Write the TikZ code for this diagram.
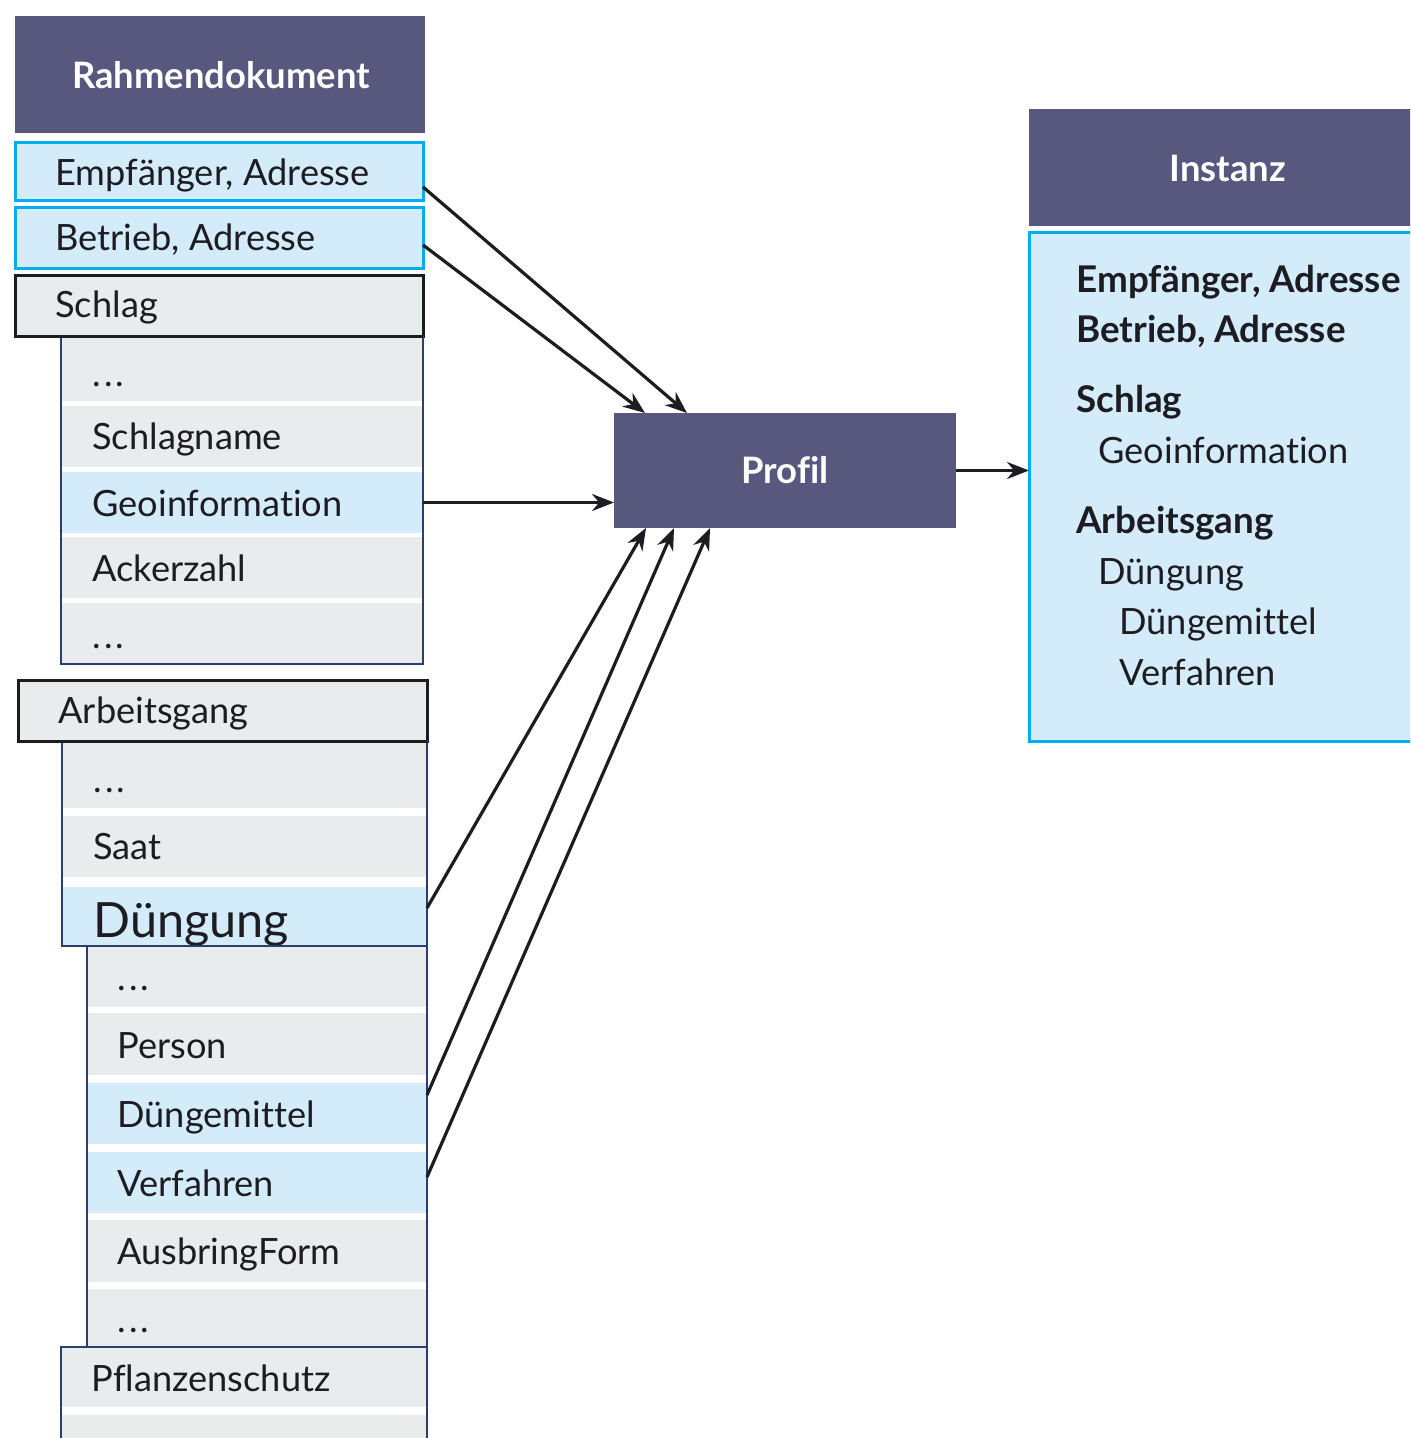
\documentclass[tikz,border=0pt]{standalone}
\usepackage{fontspec}
\setmainfont{Lato}[Ligatures=NoCommon]
\usetikzlibrary{fit,arrows.meta}

\definecolor{hdr}{RGB}{88,87,125}
\definecolor{selfill}{RGB}{212,236,249}
\definecolor{selline}{RGB}{0,174,239}
\definecolor{rowgrey}{RGB}{232,236,237}
\definecolor{navy}{RGB}{44,62,110}
\definecolor{ink}{RGB}{28,28,34}

\newcommand{\etc}{.\kern1.6pt.\kern1.6pt.}

\begin{document}
\begin{tikzpicture}[x=0.5pt,y=-0.5pt,
  box/.style={inner sep=0pt, outer sep=0pt},
  hdrbox/.style={box, fill=hdr},
  selbox/.style={box, fill=selfill, draw=selline, line width=1.5pt},
  grpbox/.style={box, fill=rowgrey, draw=ink, line width=1.5pt},
  greyrow/.style={box, fill=rowgrey},
  bluerow/.style={box, fill=selfill},
  listframe/.style={box, draw=navy, line width=1pt},
  lbl/.style={anchor=base west, inner sep=0pt, text=ink,
    font=\fontsize{18.1}{21}\selectfont},
  biglbl/.style={lbl, font=\fontsize{24.3}{28}\selectfont},
  boldlbl/.style={lbl, font=\fontsize{18.4}{21}\selectfont\bfseries},
  hdrlbl/.style={anchor=base, inner sep=0pt, text=white,
    font=\fontsize{18.2}{21}\selectfont\bfseries},
  arr/.style={draw=ink, line width=1.6pt,
    -{Stealth[length=11pt,width=8.5pt]}}
]
\clip (0,0) rectangle (1410,1438);

% ---------- Rahmendokument ----------
\node[hdrbox, fit={(15,16)(425,133)}] (rahmen) {};
\node[hdrlbl] (rahmenT) at (221,89) {Rahmendokument};

\node[selbox, fit={(15,143)(423,201)}] (emp) {};
\node[lbl] (empT) at (55,186) {Empfänger, Adresse};
\node[selbox, fit={(15,208)(423,269)}] (betr) {};
\node[lbl] (betrT) at (55,251) {Betrieb, Adresse};

% Schlag group
\node[grpbox, fit={(15,276)(423,337)}] (schlag) {};
\node[lbl] (schlagT) at (55,318) {Schlag};
\node[greyrow, fit={(61,338)(423,401)}] (s1) {};
\node[greyrow, fit={(61,406)(423,467)}] (s2) {};
\node[bluerow, fit={(61,472)(423,533)}] (geo) {};
\node[greyrow, fit={(61,537)(423,598)}] (s4) {};
\node[greyrow, fit={(61,603)(423,664)}] (s5) {};
\node[listframe, fit={(61,337)(423,664)}] (schlagList) {};
\draw[ink, line width=1.5pt] (schlag.south west) -- (schlag.south east);
\node[lbl] (s1T) at (92,387) {\etc};
\node[lbl] (s2T) at (92,450) {Schlagname};
\node[lbl] (geoT) at (92,516) {Geoinformation};
\node[lbl] (s4T) at (92,581) {Ackerzahl};
\node[lbl] (s5T) at (92,648) {\etc};

% Arbeitsgang group
\node[grpbox, fit={(18,680)(427,741)}] (arbeit) {};
\node[lbl] (arbeitT) at (58,723) {Arbeitsgang};
\node[greyrow, fit={(62,742)(427,808)}] (a1) {};
\node[greyrow, fit={(62,816)(427,877)}] (a2) {};
\node[bluerow, fit={(62,887)(427,946)}] (dueng) {};
\node[listframe, fit={(62,741)(427,946)}] (arbeitList) {};
\draw[ink, line width=1.5pt] (arbeit.south west) -- (arbeit.south east);
\node[lbl] (a1T) at (93,792) {\etc};
\node[lbl] (a2T) at (93,859) {Saat};
\node[biglbl] (duengT) at (93,937) {Düngung};

% Duengung sub-list
\node[greyrow, fit={(87,947)(427,1007)}] (d1) {};
\node[greyrow, fit={(87,1013)(427,1075)}] (d2) {};
\node[bluerow, fit={(87,1083)(427,1144)}] (mittel) {};
\node[bluerow, fit={(87,1152)(427,1213)}] (verf) {};
\node[greyrow, fit={(87,1220)(427,1282)}] (d5) {};
\node[greyrow, fit={(87,1289)(427,1347)}] (d6) {};
\node[listframe, fit={(87,946)(427,1347)}] (duengList) {};
\node[lbl] (d1T) at (117,990) {\etc};
\node[lbl] (d2T) at (117,1058) {Person};
\node[lbl] (mittelT) at (117,1127) {Düngemittel};
\node[lbl] (verfT) at (117,1196) {Verfahren};
\node[lbl] (d5T) at (117,1264) {AusbringForm};
\node[lbl] (d6T) at (117,1332) {\etc};

% Pflanzenschutz
\node[greyrow, fit={(61,1348)(427,1407)}] (pfl) {};
\node[greyrow, fit={(61,1415)(427,1470)}] (pfl2) {};
\node[listframe, fit={(61,1347)(427,1470)}] (pflList) {};
\node[lbl] (pflT) at (91,1391) {Pflanzenschutz};

% ---------- Profil ----------
\node[hdrbox, fit={(614,413)(956,528)}] (prof) {};
\node[hdrlbl] (profT) at (785,483) {Profil};

% ---------- Instanz ----------
\node[hdrbox, fit={(1029,109)(1430,226)}] (inst) {};
\node[hdrlbl] (instT) at (1228,182) {Instanz};
\node[selbox, fit={(1029,233)(1430,741)}] (instBody) {};
\node[boldlbl] (i1) at (1076,293) {Empfänger, Adresse};
\node[boldlbl] (i2) at (1076,343) {Betrieb, Adresse};
\node[boldlbl] (i3) at (1076,413) {Schlag};
\node[lbl] (i4) at (1098,463) {Geoinformation};
\node[boldlbl] (i5) at (1076,533) {Arbeitsgang};
\node[lbl] (i6) at (1098,584) {Düngung};
\node[lbl] (i7) at (1119,634) {Düngemittel};
\node[lbl] (i8) at (1119,685) {Verfahren};

% ---------- Connectors ----------
\draw[arr] ([yshift=-7.5pt]emp.east) -- ([xshift=36.5pt]prof.north west);
\draw[arr] ([yshift=-3.25pt]betr.east) -- ([xshift=15.5pt]prof.north west);
\draw[arr] (geo.east) -- (geo.east -| prof.west);
\draw[arr] ([yshift=4.25pt]dueng.east) -- ([xshift=16pt]prof.south west);
\draw[arr] ([yshift=9.25pt]mittel.east) -- ([xshift=30pt]prof.south west);
\draw[arr] ([yshift=2.75pt]verf.east) -- ([xshift=48pt]prof.south west);
\draw[arr] (prof.east) -- (prof.east -| instBody.west);
\end{tikzpicture}
\end{document}
